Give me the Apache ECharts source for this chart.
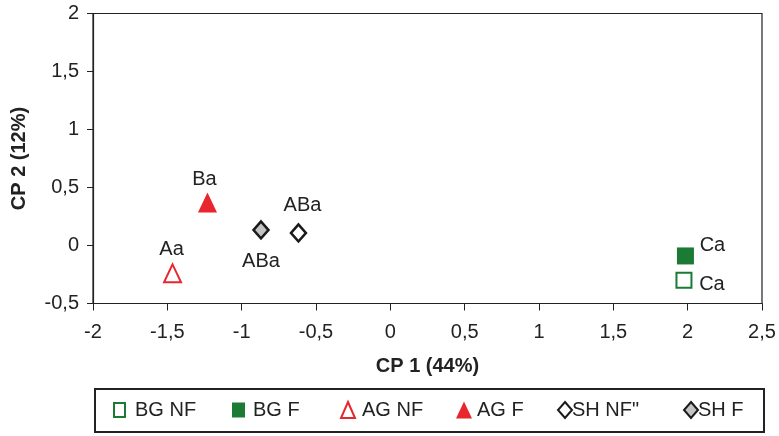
<!DOCTYPE html>
<html><head><meta charset="utf-8">
<script src="https://cdn.jsdelivr.net/npm/echarts@6/dist/echarts.min.js"></script>
<style>html,body{margin:0;padding:0;background:#fff}#c{width:779px;height:436px}</style>
</head><body><div id="c"></div>
<script>
const seriesNames = ['BG NF','BG F','AG NF','AG F','SH NF"','SH F'];
const bgNF = [[1.975,-0.30]];
const bgF  = [[1.985,-0.09]];
const agNF = [[-1.465,-0.24]];
const agF  = [[-1.23,0.37]];
const shNF = [[-0.618,0.108]];
const shF  = [[-0.87,0.134]];
const pointLabels = ['Ca','Ca','Aa','Ba','ABa','ABa'];
const xTicks = {min:-2,max:2.5,step:0.5};
const yTicks = {min:-0.5,max:2,step:0.5};

const GREEN='#1b7a33', RED='#e8262d', GREY='#c4c4c4', BLACK='#1a1a1a';
const font='Liberation Sans, Arial, Helvetica, sans-serif';
const fmt = v => String(v).replace('.',',');
const lab = (txt,off)=>({show:true,formatter:txt,position:'inside',offset:off,fontSize:20,color:'#222',fontFamily:font});

const series = [
 {name:seriesNames[0],type:'scatter',data:bgNF,symbol:'rect',symbolSize:15,
  itemStyle:{color:'#fff',borderColor:GREEN,borderWidth:2,opacity:1},label:lab(pointLabels[0],[28,4.5])},
 {name:seriesNames[1],type:'scatter',data:bgF,symbol:'rect',symbolSize:17,
  itemStyle:{color:GREEN,borderColor:GREEN,borderWidth:0,opacity:1},label:lab(pointLabels[1],[27,-10.5])},
 {name:seriesNames[2],type:'scatter',data:agNF,symbol:'triangle',symbolSize:[17,18],
  itemStyle:{color:'#fff',borderColor:RED,borderWidth:2,opacity:1},label:lab(pointLabels[2],[-1,-23.5])},
 {name:seriesNames[3],type:'scatter',data:agF,symbol:'triangle',symbolSize:[19,20],
  itemStyle:{color:RED,borderColor:RED,borderWidth:0,opacity:1},label:lab(pointLabels[3],[-3,-23])},
 {name:seriesNames[4],type:'scatter',data:shNF,symbol:'diamond',symbolSize:[15,17],
  itemStyle:{color:'#fff',borderColor:BLACK,borderWidth:2.5,opacity:1},label:lab(pointLabels[4],[4,-27])},
 {name:seriesNames[5],type:'scatter',data:shF,symbol:'diamond',symbolSize:[15,17],
  itemStyle:{color:GREY,borderColor:BLACK,borderWidth:2.5,opacity:1},label:lab(pointLabels[5],[0,32])}
];

const legendIconLeft=[113,232,340,456,557,683];
const legendTextGap=[5,3,2,0,-5,-5];
const legendIcons=['rect','rect','triangle','triangle','diamond','diamond'];
const legendSizes=[[11,14],[13,15],[14,16],[16,17],[14,16],[14,16]];
const legends = seriesNames.map((n,i)=>({
  data:[n], left:legendIconLeft[i], top:400, icon:legendIcons[i],
  itemWidth:legendSizes[i][0], itemHeight:legendSizes[i][1], itemGap:0,
  padding:0, textStyle:{fontSize:20,color:'#222',fontFamily:font,padding:[0,0,0,legendTextGap[i]]},
  selectedMode:false
}));

const chart = echarts.init(document.getElementById('c'),null,{renderer:'canvas'});
chart.setOption({
 animation:false,
 backgroundColor:'#fff',
 textStyle:{fontFamily:font},
 grid:{left:93,right:17,top:13.5,bottom:132.5,show:true,borderColor:'#222',borderWidth:1.2,backgroundColor:'transparent'},
 xAxis:{type:'value',min:xTicks.min,max:xTicks.max,interval:xTicks.step,
  name:'CP 1 (44%)',nameLocation:'middle',nameGap:53,
  nameTextStyle:{fontSize:20,fontWeight:'bold',color:'#222',fontFamily:font},
  axisLine:{show:true,onZero:false,lineStyle:{color:'#222',width:1.2}},
  axisTick:{show:true,inside:false,length:7,lineStyle:{color:'#222'}},
  axisLabel:{fontSize:20,color:'#222',margin:19,formatter:fmt,fontFamily:font},
  splitLine:{show:false}},
 yAxis:{type:'value',min:yTicks.min,max:yTicks.max,interval:yTicks.step,
  name:'CP 2 (12%)',nameLocation:'middle',nameGap:64,nameRotate:90,
  nameTextStyle:{fontSize:20,fontWeight:'bold',color:'#222',fontFamily:font},
  axisLine:{show:true,onZero:false,lineStyle:{color:'#222',width:1.2}},
  axisTick:{show:true,inside:false,length:6,lineStyle:{color:'#222'}},
  axisLabel:{fontSize:20,color:'#222',margin:14,formatter:fmt,fontFamily:font},
  splitLine:{show:false}},
 legend:legends,
 graphic:[{type:'rect',shape:{x:95,y:389,width:669,height:43},
   style:{fill:'none',stroke:'#222',lineWidth:2},silent:true}],
 series:series
});
</script></body></html>
